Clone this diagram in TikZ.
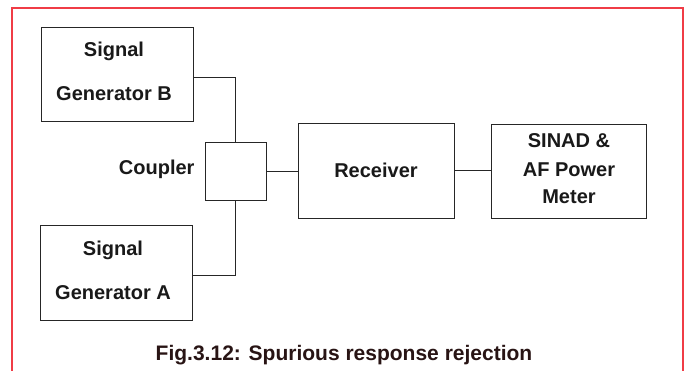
\documentclass[tikz,border=0pt]{standalone}
\usepackage{fontspec}
\setmainfont{Liberation Sans}
\begin{document}
\begin{tikzpicture}[x=1pt,y=-1pt,
  blk/.style={draw=black!85, line width=1pt, minimum width=#1, inner sep=0pt},
  lbl/.style={font=\bfseries\fontsize{20}{24}\selectfont, align=center, text=black!90},
  wire/.style={draw=black!85, line width=1pt}]
\useasboundingbox (0,0) rectangle (689,370);
\fill[white] (0,0) rectangle (689,370);
\draw[color={rgb,255:red,240;green,60;blue,70}, line width=1.6pt] (12,372) -- (12,8) -- (683,8) -- (683,372);
% boxes
\node[blk=152pt, minimum height=94pt] (genB) at (117,74) {};
\node[lbl] at (114,51) {Signal};
\node[lbl] at (114,94) {Generator B};
\node[blk=152pt, minimum height=95pt] (genA) at (116,272.5) {};
\node[lbl] at (113,250) {Signal};
\node[lbl] at (113,293) {Generator A};
\node[blk=61pt, minimum height=58pt] (coupler) at (235.5,171) {};
\node[lbl, anchor=east] (cpl) at (198,169) {Coupler};
\node[blk=156pt, minimum height=95pt, lbl] (receiver) at (376,170.5) {Receiver};
\node[blk=155pt, minimum height=94pt] (sinad) at (568.5,171) {};
\node[lbl] at (569,141) {SINAD \&};
\node[lbl] at (569,170) {AF Power};
\node[lbl] at (569,197) {Meter};
% connectors
\draw[wire] ([yshift=-3pt]genB.east) -| (coupler.north);
\draw[wire] ([yshift=-2.5pt]genA.east) -| (coupler.south);
\draw[wire] (coupler.east) -- (coupler.east -| receiver.west);
\draw[wire] (receiver.east) -- (receiver.east -| sinad.west);
% caption
\node[font=\bfseries\fontsize{21}{24}\selectfont, text={rgb,255:red,40;green,20;blue,20}] (cap) at (344,355) {Fig.3.12: Spurious response rejection};
\end{tikzpicture}
\end{document}
